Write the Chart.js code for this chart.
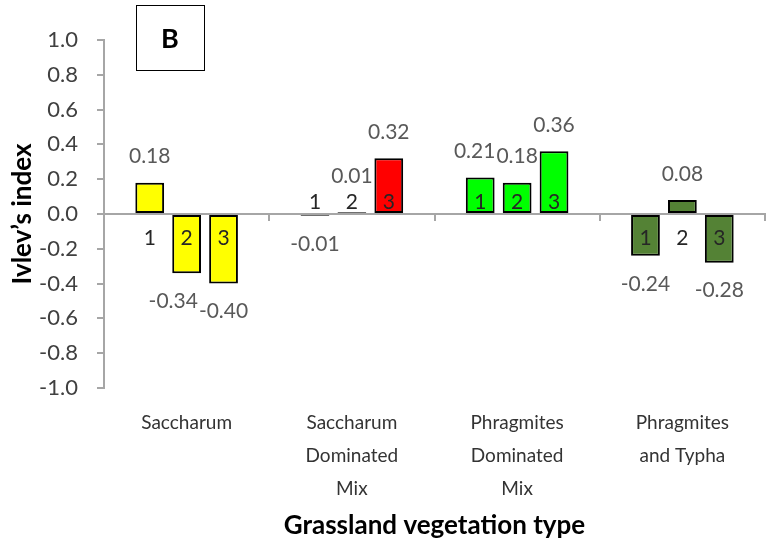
<!DOCTYPE html>
<html>
<head>
<meta charset="utf-8">
<script src="https://cdn.jsdelivr.net/npm/chart.js@4.4.1/dist/chart.umd.min.js"></script>
<style>
  html, body { margin: 0; padding: 0; background: #ffffff; }
  #wrap { position: relative; width: 767px; height: 541px; }
</style>
</head>
<body>
<div id="wrap"><canvas id="myChart" width="767" height="541"></canvas></div>
<script>
var categories = [
  "Saccharum",
  ["Saccharum", "Dominated", "Mix"],
  ["Phragmites", "Dominated", "Mix"],
  ["Phragmites", "and Typha"]
];
var seriesNames = ["1", "2", "3"];
var series1 = [0.18, -0.01, 0.21, -0.24];
var series2 = [-0.34, 0.01, 0.18, 0.08];
var series3 = [-0.40, 0.32, 0.36, -0.28];
var yTicks = [-1.0, -0.8, -0.6, -0.4, -0.2, 0.0, 0.2, 0.4, 0.6, 0.8, 1.0];
var panelLetter = "B";

// which side of the zero line the 1/2/3 labels sit, per category
var numberSide = ["below", "above", "above", "below"];
var barColors = ["#FFFF00", "#FF0000", "#00FF00", "#548235"];

var fontFamily = "Lato, 'Open Sans', sans-serif";

function makeDataset(name, values) {
  return {
    label: name,
    data: values,
    backgroundColor: barColors,
    borderColor: "#000000",
    borderWidth: 2,
    borderSkipped: false,
    categoryPercentage: 0.67,
    barPercentage: 0.78
  };
}

var barLabelsPlugin = {
  id: "barLabels",
  afterDatasetsDraw: function (chart) {
    var ctx = chart.ctx;
    var zeroY = chart.scales.y.getPixelForValue(0);
    var valueFont = "21px " + fontFamily;
    ctx.save();
    ctx.textAlign = "center";
    ctx.textBaseline = "middle";
    ctx.font = valueFont;

    // collect value labels per category, then push apart the ones that touch
    var groups = categories.map(function () { return []; });
    chart.data.datasets.forEach(function (ds, di) {
      var meta = chart.getDatasetMeta(di);
      meta.data.forEach(function (bar, i) {
        var v = ds.data[i];
        var side = numberSide[i];
        var vy;
        if (v >= 0) {
          vy = bar.y - 26;
          if (side === "above") vy = Math.min(vy, zeroY - 38);
        } else {
          vy = bar.y + 28;
          if (side === "below") vy = Math.max(vy, zeroY + 50);
        }
        var text = v.toFixed(2);
        groups[i].push({ text: text, x: bar.x, y: vy, w: ctx.measureText(text).width, bar: bar, name: ds.label, side: side });
      });
    });

    groups.forEach(function (g) {
      for (var k = g.length - 2; k >= 0; k--) {
        var a = g[k], b = g[k + 1];
        var overlapX = (a.x + a.w / 2) - (b.x - b.w / 2);
        if (overlapX > 0 && Math.abs(a.y - b.y) < 16) {
          a.x -= overlapX + 1;
        }
      }
      g.forEach(function (l) {
        ctx.font = valueFont;
        ctx.fillStyle = "#595959";
        ctx.fillText(l.text, l.x, l.y);
        ctx.font = "21px " + fontFamily;
        ctx.fillStyle = "#262626";
        var ny = l.side === "above" ? zeroY - 12 : zeroY + 24;
        ctx.fillText(l.name, l.bar.x, ny);
      });
    });
    ctx.restore();
  }
};

var panelBoxPlugin = {
  id: "panelBox",
  afterDraw: function (chart) {
    var ctx = chart.ctx;
    ctx.save();
    ctx.strokeStyle = "#000000";
    ctx.lineWidth = 1;
    ctx.strokeRect(136.5, 5.5, 68, 65);
    ctx.font = "bold 27px " + fontFamily;
    ctx.fillStyle = "#000000";
    ctx.textAlign = "center";
    ctx.textBaseline = "middle";
    ctx.fillText(panelLetter, 170, 39);
    ctx.restore();
  }
};

var ctx = document.getElementById("myChart").getContext("2d");
var myChart = new Chart(ctx, {
  type: "bar",
  data: {
    labels: categories,
    datasets: [
      makeDataset(seriesNames[0], series1),
      makeDataset(seriesNames[1], series2),
      makeDataset(seriesNames[2], series3)
    ]
  },
  options: {
    responsive: false,
    animation: false,
    layout: { padding: { top: 40, right: 2, bottom: 0, left: 7 } },
    plugins: {
      legend: { display: false },
      tooltip: { enabled: false }
    },
    scales: {
      x: {
        position: "bottom",
        afterFit: function (axis) { axis.height = 153; },
        grid: { display: false, drawTicks: false },
        border: { display: false },
        ticks: {
          color: "#333333",
          font: { family: fontFamily, size: 19, lineHeight: 1.74 },
          padding: 18,
          maxRotation: 0,
          autoSkip: false
        },
        title: {
          display: true,
          text: "Grassland vegetation type",
          color: "#000000",
          font: { family: fontFamily, size: 26, weight: "bold" },
          padding: { top: 4, bottom: 0 }
        }
      },
      x2: {
        type: "category",
        position: { y: 0 },
        grid: {
          drawOnChartArea: false,
          drawTicks: true,
          tickLength: 6,
          color: "#A6A6A6",
          lineWidth: 2
        },
        border: { display: true, color: "#A6A6A6", width: 2 },
        ticks: { display: false }
      },
      y: {
        min: -1,
        max: 1,
        afterFit: function (axis) { axis.width = 97; },
        afterBuildTicks: function (axis) {
          axis.ticks = yTicks.map(function (t) { return { value: t }; });
        },
        grid: {
          drawOnChartArea: false,
          drawTicks: true,
          tickLength: 7,
          color: "#A6A6A6",
          lineWidth: 2
        },
        border: { display: true, color: "#A6A6A6", width: 2 },
        ticks: {
          color: "#404040",
          font: { family: fontFamily, size: 22 },
          padding: 19,
          callback: function (value) { return Number(value).toFixed(1); }
        },
        title: {
          display: true,
          text: "Ivlev’s index",
          color: "#000000",
          font: { family: fontFamily, size: 26, weight: "bold" },
          padding: { top: 0, bottom: 2 }
        }
      }
    }
  },
  plugins: [barLabelsPlugin, panelBoxPlugin]
});
</script>
</body>
</html>
